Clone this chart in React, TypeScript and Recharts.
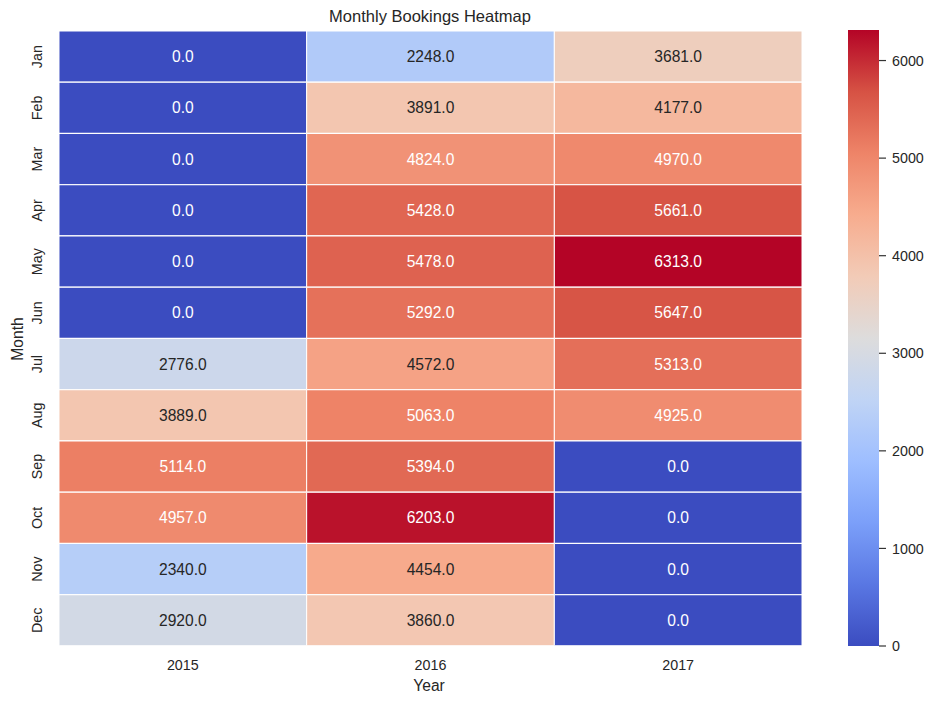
import { BarChart, Bar, XAxis, YAxis, Cell, LabelList } from 'recharts'

const months = ['Jan', 'Feb', 'Mar', 'Apr', 'May', 'Jun', 'Jul', 'Aug', 'Sep', 'Oct', 'Nov', 'Dec']
const years = ['2015', '2016', '2017']
const bookings2015 = [0, 0, 0, 0, 0, 0, 2776, 3889, 5114, 4957, 2340, 2920]
const bookings2016 = [2248, 3891, 4824, 5428, 5478, 5292, 4572, 5063, 5394, 6203, 4454, 3860]
const bookings2017 = [3681, 4177, 4970, 5661, 6313, 5647, 5313, 4925, 0, 0, 0, 0]
const colorbarTicks = [0, 1000, 2000, 3000, 4000, 5000, 6000]

const FONT = '"Liberation Sans", Arial, sans-serif'
const TEXT = '#262626'

// coolwarm sampled every 0.1
const COOLWARM = [
  '#3b4cc0', '#5977e3', '#7b9ff9', '#9ebeff', '#c0d4f5', '#dddcdc',
  '#f2cbb7', '#f7ac8e', '#ee8468', '#d65244', '#b40426',
]

const hexToRgb = (h: string) => [1, 3, 5].map((i) => parseInt(h.slice(i, i + 2), 16))

function coolwarm(t: number) {
  const c = Math.max(0, Math.min(1, t)) * (COOLWARM.length - 1)
  const i = Math.min(Math.floor(c), COOLWARM.length - 2)
  const f = c - i
  const a = hexToRgb(COOLWARM[i])
  const b = hexToRgb(COOLWARM[i + 1])
  const rgb = a.map((v, k) => Math.round(v + (b[k] - v) * f))
  return `rgb(${rgb.join(',')})`
}

// same rule seaborn uses to pick annotation colour
function textColor(fill: string) {
  const [r, g, b] = fill.match(/\d+/g)!.map((v) => {
    const c = Number(v) / 255
    return c <= 0.03928 ? c / 12.92 : Math.pow((c + 0.055) / 1.055, 2.4)
  })
  const lum = 0.2126 * r + 0.7152 * g + 0.0722 * b
  return lum > 0.408 ? TEXT : '#ffffff'
}

const vmax = Math.max(...bookings2015, ...bookings2016, ...bookings2017)

const rows = months.map((m, i) => ({
  month: m,
  w2015: 1,
  w2016: 1,
  w2017: 1,
  v2015: bookings2015[i],
  v2016: bookings2016[i],
  v2017: bookings2017[i],
}))

const MonthTick = (props: any) => {
  const { x, y, payload } = props
  return (
    <text
      x={x}
      y={y}
      transform={`rotate(-90, ${x}, ${y})`}
      textAnchor="middle"
      fill={TEXT}
      fontSize={14.3}
      fontFamily={FONT}
    >
      {payload.value}
    </text>
  )
}

const cellLabel = (key: string) => (props: any) => {
  const { x, y, width, height, value } = props
  const fill = coolwarm(value / vmax)
  return (
    <text
      x={x + width / 2}
      y={y + height / 2}
      textAnchor="middle"
      dominantBaseline="central"
      fill={textColor(fill)}
      fontSize={15.6}
      fontFamily={FONT}
      key={key}
    >
      {Number(value).toFixed(1)}
    </text>
  )
}

export default function App() {
  return (
    <div style={{ position: 'absolute', left: 0, top: 0, width: 936, height: 704, background: '#fff' }}>
      <BarChart
        width={936}
        height={704}
        data={rows}
        layout="vertical"
        barCategoryGap={0}
        barGap={0}
        margin={{ top: 31, right: 134, bottom: 0, left: 0 }}
      >
        <XAxis
          type="number"
          domain={[0, 3]}
          ticks={[0.5, 1.5, 2.5]}
          tickFormatter={(v: number) => years[Math.floor(v)]}
          axisLine={false}
          tickLine={false}
          tickSize={0}
          tickMargin={14}
          height={58}
          tick={{ fill: TEXT, fontSize: 14.3, fontFamily: FONT }}
        />
        <YAxis
          type="category"
          dataKey="month"
          width={59}
          axisLine={false}
          tickLine={false}
          tickSize={0}
          tickMargin={17}
          tick={<MonthTick />}
        />
        {years.map((yr) => (
          <Bar
            key={yr}
            dataKey={`w${yr}`}
            stackId="cells"
            isAnimationActive={false}
            stroke="#ffffff"
            strokeWidth={1}
          >
            {rows.map((r: any, i) => (
              <Cell key={i} fill={coolwarm(r[`v${yr}`] / vmax)} />
            ))}
            <LabelList dataKey={`v${yr}`} content={cellLabel(yr)} />
          </Bar>
        ))}
      </BarChart>

      <div style={{ position: 'absolute', left: 848, top: 0 }}>
        <BarChart
          width={88}
          height={704}
          data={[{ name: 'cb', value: vmax }]}
          barCategoryGap={0}
          margin={{ top: 30, right: 0, bottom: 58, left: 0 }}
        >
          <defs>
            <linearGradient id="cbGrad" x1="0" y1="1" x2="0" y2="0">
              {COOLWARM.map((c, i) => (
                <stop key={i} offset={i / (COOLWARM.length - 1)} stopColor={c} />
              ))}
            </linearGradient>
          </defs>
          <XAxis dataKey="name" hide />
          <YAxis
            orientation="right"
            width={57}
            domain={[0, vmax]}
            ticks={colorbarTicks}
            axisLine={false}
            tickLine={{ stroke: '#333333', strokeWidth: 1.2 }}
            tickSize={7}
            tickMargin={6}
            tick={{ fill: TEXT, fontSize: 14.3, fontFamily: FONT }}
          />
          <Bar dataKey="value" fill="url(#cbGrad)" isAnimationActive={false} />
        </BarChart>
      </div>

      <svg
        width={936}
        height={704}
        style={{ position: 'absolute', left: 0, top: 0, pointerEvents: 'none' }}
      >
        <text x={430} y={22} textAnchor="middle" fill={TEXT} fontSize={16.5} fontFamily={FONT}>
          Monthly Bookings Heatmap
        </text>
        <text x={429} y={691} textAnchor="middle" fill={TEXT} fontSize={15.6} fontFamily={FONT}>
          Year
        </text>
        <text
          x={23}
          y={339}
          transform="rotate(-90, 23, 339)"
          textAnchor="middle"
          fill={TEXT}
          fontSize={15.6}
          fontFamily={FONT}
        >
          Month
        </text>
      </svg>
    </div>
  )
}
